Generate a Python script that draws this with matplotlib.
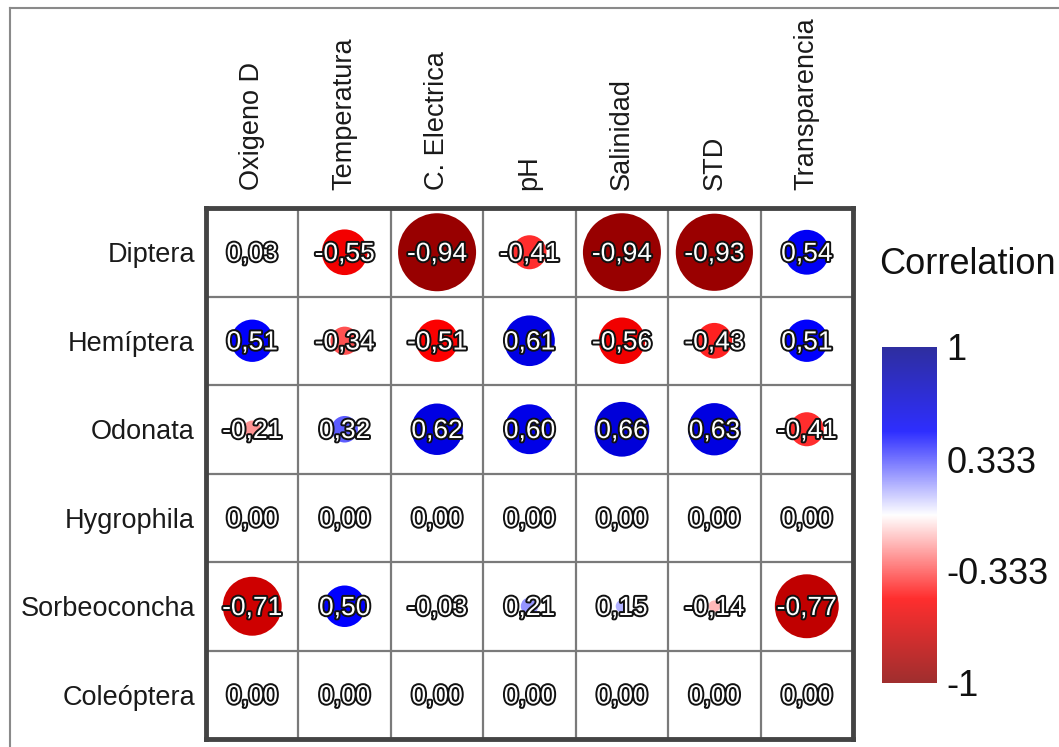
import numpy as np
import matplotlib
matplotlib.use('Agg')
import matplotlib.pyplot as plt
import matplotlib.patheffects as pe
from matplotlib.colors import LinearSegmentedColormap, Normalize
from matplotlib.lines import Line2D

plt.rcParams['font.family'] = ['Liberation Sans', 'DejaVu Sans']

# ── data ──────────────────────────────────────────────────────
variables = ['Oxigeno D', 'Temperatura', 'C. Electrica', 'pH',
             'Salinidad', 'STD', 'Transparencia']
taxa = ['Diptera', 'Hemíptera', 'Odonata', 'Hygrophila',
        'Sorbeoconcha', 'Coleóptera']

r_diptera      = [0.03, -0.55, -0.94, -0.41, -0.94, -0.93, 0.54]
r_hemiptera    = [0.51, -0.34, -0.51, 0.61, -0.56, -0.43, 0.51]
r_odonata      = [-0.21, 0.32, 0.62, 0.60, 0.66, 0.63, -0.41]
r_hygrophila   = [0.00, 0.00, 0.00, 0.00, 0.00, 0.00, 0.00]
r_sorbeoconcha = [-0.71, 0.50, -0.03, 0.21, 0.15, -0.14, -0.77]
r_coleoptera   = [0.00, 0.00, 0.00, 0.00, 0.00, 0.00, 0.00]

cbar_ticks  = [-1, -0.333, 0.333, 1]
cbar_labels = ['-1', '-0.333', '0.333', '1']

R = np.array([r_diptera, r_hemiptera, r_odonata,
              r_hygrophila, r_sorbeoconcha, r_coleoptera])
n_rows, n_cols = R.shape

cmap = LinearSegmentedColormap.from_list(
    'corr', ['#8B0000', '#FF0000', '#FFFFFF', '#0000FF', '#00008B'])
norm = Normalize(-1, 1)

W, H = 1059, 747
fig = plt.figure(figsize=(W / 100, H / 100), dpi=100, facecolor='white')

# thin outer frame (top and left only)
fig.add_artist(Line2D([10 / W, 1.0], [1 - 8 / H, 1 - 8 / H],
                      color='#8a8a8a', lw=1.5, transform=fig.transFigure))
fig.add_artist(Line2D([10 / W, 10 / W], [0, 1 - 8 / H],
                      color='#8a8a8a', lw=1.5, transform=fig.transFigure))

# ── main grid ────────────────────────────────────────────────
ax = fig.add_axes([206 / W, 1 - 739 / H, (853 - 206) / W, (739 - 208) / H])
ax.set_xlim(-0.5, n_cols - 0.5)
ax.set_ylim(n_rows - 0.5, -0.5)

for i in range(1, n_cols):
    ax.axvline(i - 0.5, color='#7a7a7a', lw=1.6, zorder=1)
for j in range(1, n_rows):
    ax.axhline(j - 0.5, color='#7a7a7a', lw=1.6, zorder=1)

yy, xx = np.mgrid[0:n_rows, 0:n_cols]
vals = R.ravel()
diam_pt = np.abs(vals) * 83 * 0.72
ax.scatter(xx.ravel(), yy.ravel(), s=diam_pt ** 2, c=vals, cmap=cmap,
           norm=norm, marker='o', linewidths=0, zorder=2)

for j in range(n_rows):
    for i in range(n_cols):
        txt = f'{R[j, i]:.2f}'.replace('.', ',')
        ax.text(i, j + 0.02, txt, ha='center', va='center', fontsize=19,
                color='white', zorder=3,
                path_effects=[pe.withStroke(linewidth=2.8, foreground='#111111')])

ax.set_xticks(range(n_cols))
ax.set_xticklabels(variables, rotation=90, fontsize=19.5, color='#1a1a1a')
ax.xaxis.tick_top()
ax.tick_params(axis='x', length=0, pad=13)
ax.set_yticks(range(n_rows))
ax.set_yticklabels(taxa, fontsize=19.5, color='#1a1a1a')
ax.tick_params(axis='y', length=0, pad=8)
for s in ax.spines.values():
    s.set_linewidth(3.5)
    s.set_color('#444444')

# ── colour bar ───────────────────────────────────────────────
cax = fig.add_axes([882 / W, 1 - 683 / H, 55 / W, 336 / H])
grad = np.linspace(-1, 1, 256).reshape(-1, 1)
cax.imshow(grad, aspect='auto', cmap=cmap, norm=norm, origin='lower',
           extent=[0, 1, -1, 1], alpha=0.82)
cax.set_xticks([])
cax.yaxis.tick_right()
cax.set_yticks(cbar_ticks)
cax.set_yticklabels(cbar_labels, fontsize=26, color='#111111')
cax.tick_params(axis='y', length=0, pad=7)
for s in cax.spines.values():
    s.set_visible(False)

fig.text(879 / W, 1 - 265 / H, 'Correlation', ha='left', va='center',
         fontsize=26, color='#111111')

plt.savefig('out.png', dpi=100, facecolor='white')
